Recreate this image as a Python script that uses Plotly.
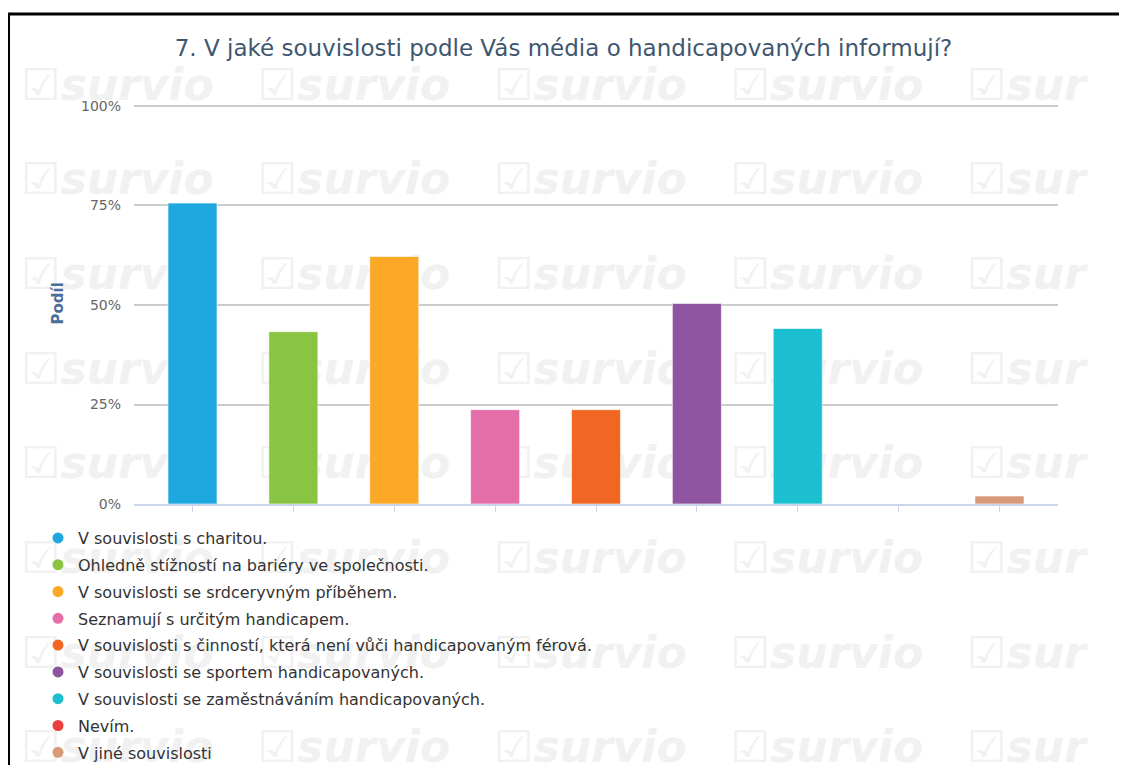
import plotly.graph_objects as go

# the page body adds an 8px margin, so the figure is drawn from (8, 8)
OFF = 8
W, H = 1127 - OFF, 765 - OFF
# plot area in screen pixels (left, right, top, bottom)
L, R, T, B = 134, 1058, 104, 504
Y_MAX = 100.5

TITLE = "7. V jaké souvislosti podle Vás média o handicapovaných informují?"
ANSWERS = [
    "V souvislosti s charitou.",
    "Ohledně stížností na bariéry ve společnosti.",
    "V souvislosti se srdceryvným příběhem.",
    "Seznamují s určitým handicapem.",
    "V souvislosti s činností, která není vůči handicapovaným férová.",
    "V souvislosti se sportem handicapovaných.",
    "V souvislosti se zaměstnáváním handicapovaných.",
    "Nevím.",
    "V jiné souvislosti",
]
SHARE = [75.6, 43.3, 62.2, 23.7, 23.7, 50.4, 44.1, 0, 2.0]
COLORS = ["#1fa8e0", "#89c443", "#faa825", "#e56ea8", "#f06622",
          "#8f549f", "#1cbfcf", "#ea3f3b", "#d8987a"]
Y_TICKS = [0, 25, 50, 75, 100]
Y_TICK_TEXT = ["0%", "25%", "50%", "75%", "100%"]


def px(x):
    return (x - L) / (R - L)


def py(y):
    return (B - y) / (B - T)


fig = go.Figure()
fig.add_bar(x=ANSWERS, y=SHARE, width=0.486, marker_color=COLORS,
            marker_line=dict(color="rgba(255,255,255,0.6)", width=1),
            showlegend=False, hoverinfo="skip")

# circle symbols for the legend (highcharts style)
for i, (name, col) in enumerate(zip(ANSWERS, COLORS)):
    fig.add_scatter(x=[None], y=[None], mode="markers", name=name,
                    legendgroup=f"g{i}",
                    marker=dict(color=col, size=11, symbol="circle"))

# survio watermark tiles, kept below the plot
shapes = []
for r in range(8):
    yc = 81 + 94.7 * r
    for c in range(5):
        x0 = 18 + 236.5 * c
        txt = "☑sur" if c == 4 else "☑survio"
        shapes.append(dict(
            type="rect", xref="paper", yref="paper", layer="below",
            x0=px(x0), x1=px(x0 + 200), y0=py(yc + 25), y1=py(yc - 25),
            line=dict(width=0), fillcolor="rgba(0,0,0,0)",
            label=dict(text=txt, textposition="middle left", padding=0,
                       font=dict(family="DejaVu Sans", size=44, color="#f1f1f1",
                                 weight="bold", style="italic")),
        ))

# black frame of the original screenshot
shapes.append(dict(type="rect", xref="paper", yref="paper",
                   x0=px(8.5), x1=px(1145), y0=py(14), y1=py(800),
                   line=dict(color="black", width=3)))

fig.update_layout(
    width=W, height=H,
    margin=dict(l=L - OFF, r=W - (R - OFF), t=T - OFF, b=H - (B - OFF),
                autoexpand=False),
    paper_bgcolor="white", plot_bgcolor="rgba(0,0,0,0)",
    font=dict(family="DejaVu Sans", color="#333333"),
    title=dict(text=TITLE, x=(563.5 - OFF) / W, xanchor="center",
               y=1 - (48 - OFF) / H, yanchor="middle",
               font=dict(size=23, color="#3e576f")),
    shapes=shapes,
    showlegend=True,
    legend=dict(x=px(38), xanchor="left", y=py(521), yanchor="top",
                font=dict(size=16, color="#333333"), tracegroupgap=3,
                itemwidth=30, bgcolor="rgba(0,0,0,0)"),
    annotations=[dict(text="<b>Podíl</b>", xref="paper", yref="paper",
                      x=px(57.5), y=py(304), xanchor="center", yanchor="middle",
                      textangle=-90, showarrow=False,
                      font=dict(size=15, color="#4a6d9a"))],
)
fig.update_xaxes(range=[-0.58, 8.58], showticklabels=False, showgrid=False,
                 ticks="outside", ticklen=6, tickcolor="#ccd6eb",
                 showline=True, linecolor="#ccd6eb", linewidth=2,
                 fixedrange=True)
fig.update_yaxes(range=[0, Y_MAX], tickvals=Y_TICKS, ticktext=Y_TICK_TEXT,
                 showgrid=True, gridcolor="#cccccc", gridwidth=1.5,
                 zeroline=False, ticks="", ticklabelstandoff=12,
                 tickfont=dict(size=14, color="#666666"), fixedrange=True)

fig.write_html("out.html")
